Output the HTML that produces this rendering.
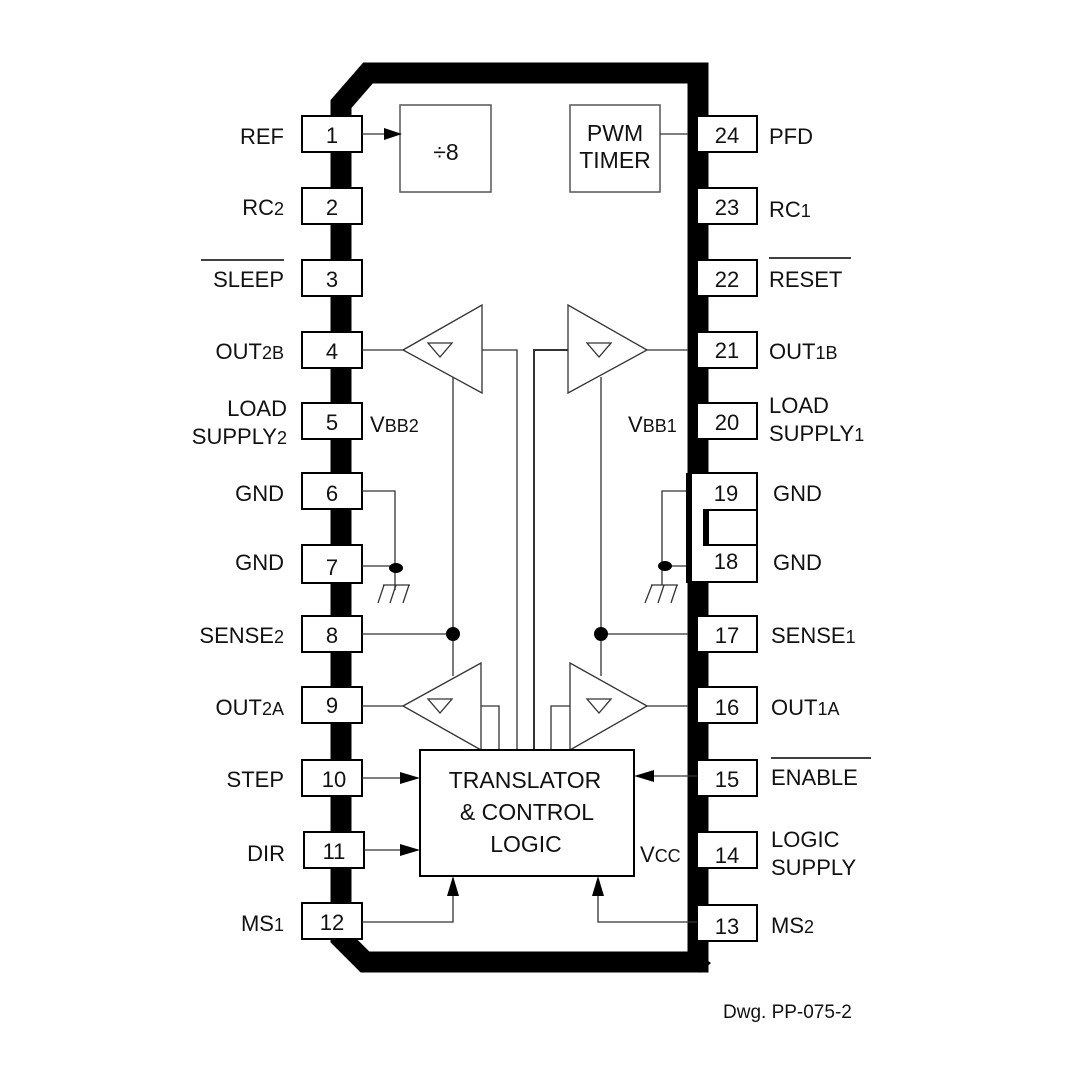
<!DOCTYPE html>
<html><head><style>
html,body{margin:0;padding:0;background:#fff}
svg text{font-family:"Liberation Sans",Arial,sans-serif;fill:#111}
</style></head><body>
<svg width="1080" height="1080" viewBox="0 0 1080 1080" xmlns="http://www.w3.org/2000/svg">
<!-- body outline -->
<path d="M341,938 L341,104 L368,73 L698,73 L698,962 L365,962 L341,938 z" fill="none" stroke="#000" stroke-width="21" stroke-linejoin="miter"/>
<path d="M700,955 L711,963 L700,973 z" fill="#000"/>
<!-- left pins -->
<g fill="#fff" stroke="#000" stroke-width="2">
<rect x="302" y="116" width="60" height="36"/>
<rect x="302" y="188" width="60" height="36"/>
<rect x="302" y="260" width="60" height="36"/>
<rect x="302" y="332" width="60" height="36"/>
<rect x="302" y="403" width="60" height="36"/>
<rect x="302" y="473" width="60" height="36"/>
<rect x="302" y="545" width="60" height="38"/>
<rect x="302" y="616" width="60" height="36"/>
<rect x="302" y="687" width="60" height="36"/>
<rect x="302" y="760" width="60" height="36"/>
<rect x="304" y="832" width="60" height="36"/>
<rect x="302" y="903" width="60" height="36"/>
<rect x="697" y="116" width="60" height="36"/>
<rect x="697" y="188" width="60" height="36"/>
<rect x="697" y="260" width="60" height="36"/>
<rect x="697" y="332" width="60" height="36"/>
<rect x="697" y="403" width="60" height="36"/>
<rect x="691" y="473" width="66" height="109"/>
<rect x="697" y="616" width="60" height="36"/>
<rect x="697" y="687" width="60" height="36"/>
<rect x="697" y="760" width="60" height="36"/>
<rect x="697" y="832" width="60" height="36"/>
<rect x="697" y="905" width="60" height="36"/>
</g>
<rect x="331" y="510" width="18" height="35" fill="#000"/>
<rect x="686" y="473" width="5" height="110" fill="#000"/>
<rect x="703" y="510" width="6" height="36" fill="#000"/>
<line x1="703" y1="510" x2="757" y2="510" stroke="#000" stroke-width="2"/>
<line x1="703" y1="545" x2="757" y2="545" stroke="#000" stroke-width="2"/>
<!-- pin numbers -->
<g font-size="22" text-anchor="middle">
<text x="332" y="143">1</text><text x="332" y="215">2</text><text x="332" y="287">3</text>
<text x="332" y="359">4</text><text x="332" y="430">5</text><text x="332" y="501">6</text>
<text x="332" y="575">7</text><text x="332" y="643">8</text><text x="332" y="713">9</text>
<text x="334" y="787">10</text><text x="334" y="859">11</text><text x="332" y="930">12</text>
<text x="727" y="143">24</text><text x="727" y="215">23</text><text x="727" y="287">22</text>
<text x="727" y="358">21</text><text x="727" y="430">20</text><text x="726" y="501">19</text>
<text x="726" y="569">18</text><text x="727" y="643">17</text><text x="727" y="715">16</text>
<text x="727" y="787">15</text><text x="727" y="863">14</text><text x="727" y="934">13</text>
</g>
<!-- labels -->
<g font-size="22" text-anchor="end">
<text x="284" y="144">REF</text>
<text x="284" y="215">RC<tspan font-size="18">2</tspan></text>
<text x="284" y="287">SLEEP</text>
<text x="284" y="359">OUT<tspan font-size="18">2B</tspan></text>
<text x="287" y="416">LOAD</text>
<text x="287" y="444">SUPPLY<tspan font-size="18">2</tspan></text>
<text x="284" y="501">GND</text>
<text x="284" y="570">GND</text>
<text x="284" y="643">SENSE<tspan font-size="18">2</tspan></text>
<text x="284" y="715">OUT<tspan font-size="18">2A</tspan></text>
<text x="284" y="787">STEP</text>
<text x="285" y="861">DIR</text>
<text x="284" y="931">MS<tspan font-size="18">1</tspan></text>
</g>
<line x1="201" y1="260" x2="284" y2="260" stroke="#000" stroke-width="1.5"/>
<g font-size="22">
<text x="769" y="144">PFD</text>
<text x="769" y="217">RC<tspan font-size="18">1</tspan></text>
<text x="769" y="287">RESET</text>
<text x="769" y="359">OUT<tspan font-size="18">1B</tspan></text>
<text x="769" y="413">LOAD</text>
<text x="769" y="441">SUPPLY<tspan font-size="18">1</tspan></text>
<text x="773" y="501">GND</text>
<text x="773" y="570">GND</text>
<text x="771" y="643">SENSE<tspan font-size="18">1</tspan></text>
<text x="771" y="715">OUT<tspan font-size="18">1A</tspan></text>
<text x="771" y="785">ENABLE</text>
<text x="771" y="847">LOGIC</text>
<text x="771" y="875">SUPPLY</text>
<text x="771" y="933">MS<tspan font-size="18">2</tspan></text>
<text x="370" y="432">V<tspan font-size="18">BB2</tspan></text>
<text x="628" y="432">V<tspan font-size="18">BB1</tspan></text>
<text x="640" y="862">V<tspan font-size="18">CC</tspan></text>
</g>
<line x1="769" y1="258" x2="851" y2="258" stroke="#000" stroke-width="1.5"/>
<line x1="771" y1="758" x2="871" y2="758" stroke="#000" stroke-width="1.5"/>
<text x="723" y="1018" font-size="19">Dwg. PP-075-2</text>
<!-- blocks -->
<g fill="none" stroke="#555" stroke-width="1.5">
<rect x="400" y="105" width="91" height="87"/>
<rect x="570" y="105" width="90" height="87"/>
</g>
<text x="446" y="160" font-size="23" text-anchor="middle">÷8</text>
<text x="615" y="141" font-size="23" text-anchor="middle">PWM</text>
<text x="615" y="168" font-size="23" text-anchor="middle">TIMER</text>
<g stroke="#333" stroke-width="1.3" fill="none">
<line x1="362" y1="134" x2="384" y2="134"/>
<line x1="660" y1="134" x2="688" y2="134"/>
<path d="M403,350 L482,305 L482,393 z"/>
<path d="M428,343 L452,343 L440,357 z"/>
<path d="M647,350 L568,305 L568,393 z"/>
<path d="M587,343 L611,343 L599,357 z"/>
<path d="M403,706 L481,663 L481,750 z"/>
<path d="M428,699 L452,699 L440,713 z"/>
<path d="M647,706 L570,663 L570,750 z"/>
<path d="M587,699 L611,699 L599,713 z"/>
<line x1="362" y1="350" x2="403" y2="350"/>
<line x1="647" y1="350" x2="688" y2="350"/>
<line x1="362" y1="706" x2="403" y2="706"/>
<line x1="647" y1="706" x2="688" y2="706"/>
<polyline points="482,350 517,350 517,750"/>
<polyline points="568,350 534,350 534,750" stroke-width="2"/>
<polyline points="481,706 499,706 499,750"/>
<polyline points="570,706 551,706 551,750"/>
<line x1="453" y1="377" x2="453" y2="676"/>
<line x1="601" y1="377" x2="601" y2="676"/>
<line x1="362" y1="634" x2="453" y2="634"/>
<line x1="601" y1="634" x2="688" y2="634"/>
<polyline points="362,491 395,491 395,590"/>
<line x1="362" y1="566" x2="396" y2="566"/>
<line x1="383" y1="585" x2="410" y2="585"/>
<line x1="384" y1="585" x2="378" y2="603"/><line x1="396" y1="585" x2="390" y2="603"/><line x1="409" y1="585" x2="403" y2="603"/>
<polyline points="686,491 662,491 662,585"/>
<line x1="662" y1="566" x2="686" y2="566"/>
<line x1="651" y1="585" x2="678" y2="585"/>
<line x1="652" y1="585" x2="645" y2="603"/><line x1="664" y1="585" x2="658" y2="603"/><line x1="677" y1="585" x2="671" y2="603"/>
<line x1="362" y1="778" x2="402" y2="778"/>
<line x1="364" y1="850" x2="402" y2="850"/>
<line x1="697" y1="776" x2="652" y2="776"/>
<polyline points="362,922 453,922 453,894"/>
<polyline points="697,922 598,922 598,894"/>
</g>
<g fill="#000">
<path d="M384,128 L402,134 L384,140 z"/>
<path d="M400,772 L420,778 L400,784 z"/>
<path d="M400,844 L420,850 L400,856 z"/>
<path d="M654,770 L634,776 L654,782 z"/>
<path d="M447,896 L453,876 L459,896 z"/>
<path d="M592,896 L598,876 L604,896 z"/>
<circle cx="453" cy="634" r="7"/>
<circle cx="601" cy="634" r="7"/>
<ellipse cx="396" cy="568" rx="7" ry="5"/>
<ellipse cx="665" cy="566" rx="7" ry="5"/>
</g>
<rect x="420" y="750" width="214" height="126" fill="#fff" stroke="#000" stroke-width="2"/>
<g font-size="23" text-anchor="middle">
<text x="525" y="788">TRANSLATOR</text>
<text x="527" y="820">&amp; CONTROL</text>
<text x="526" y="852">LOGIC</text>
</g>
</svg>
</body></html>
